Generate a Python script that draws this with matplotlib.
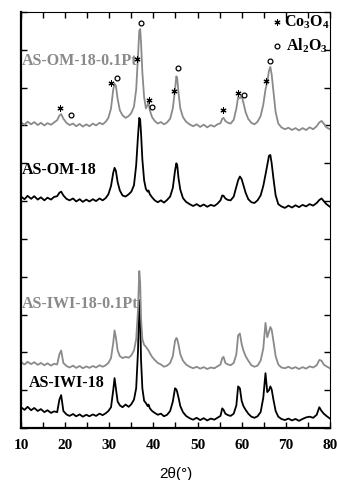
import matplotlib
matplotlib.use("Agg")
import matplotlib.pyplot as plt
from matplotlib.ticker import MultipleLocator, NullFormatter

plt.rcParams['mathtext.fontset'] = 'custom'
plt.rcParams['mathtext.rm'] = 'Liberation Serif:bold'
plt.rcParams['mathtext.bf'] = 'Liberation Serif:bold'

# 2theta grid shared by the four patterns (degrees)
two_theta = [10.0, 10.8, 11.5, 12.3, 13.0, 13.8, 14.5, 15.3, 16.0, 16.8,
             17.5, 18.2, 18.7, 19.1, 19.6, 20.3, 21.0, 21.8, 22.5, 23.3,
             24.0, 24.8, 25.5, 26.3, 27.0, 27.8, 28.5, 29.2, 29.8, 30.4,
             30.9, 31.2, 31.5, 31.9, 32.4, 33.0, 33.7, 34.4, 35.0, 35.6,
             36.1, 36.5, 36.8, 37.0, 37.2, 37.5, 37.9, 38.3, 38.7, 38.9,
             39.2, 39.7, 40.3, 41.0, 41.7, 42.4, 43.1, 43.8, 44.4, 44.9,
             45.2, 45.4, 45.7, 46.1, 46.7, 47.4, 48.2, 49.0, 49.8, 50.6,
             51.4, 52.2, 53.0, 53.8, 54.5, 55.2, 55.6, 55.9, 56.3, 56.9,
             57.5, 58.2, 58.8, 59.2, 59.6, 60.0, 60.4, 60.9, 61.5, 62.2,
             62.9, 63.6, 64.3, 64.9, 65.4, 65.8, 66.2, 66.5, 66.8, 67.2,
             67.7, 68.3, 69.0, 69.8, 70.6, 71.4, 72.2, 73.0, 73.8, 74.6,
             75.4, 76.2, 77.0, 77.6, 78.1, 78.6, 79.2, 80.0]

# intensities (offset, arbitrary units)
om_pt = [8.08, 8.02, 8.10, 8.03, 8.09, 8.01, 8.07, 8.00, 8.06, 8.02,
         8.08, 8.14, 8.26, 8.30, 8.18, 8.07, 8.01, 8.05, 7.98, 8.04,
         7.97, 8.03, 7.98, 8.05, 8.00, 8.07, 8.03, 8.10, 8.20, 8.45,
         8.95, 9.10, 9.05, 8.70, 8.40, 8.27, 8.20, 8.25, 8.33, 8.50,
         8.95, 9.80, 10.50, 10.55, 10.20, 9.40, 8.75, 8.45, 8.55, 8.62,
         8.40, 8.22, 8.12, 8.05, 8.09, 8.03, 8.08, 8.18, 8.45, 8.95,
         9.30, 9.25, 8.85, 8.45, 8.22, 8.10, 8.03, 7.98, 8.03, 7.96,
         8.02, 7.95, 8.01, 7.97, 8.03, 8.06, 8.18, 8.20, 8.12, 8.07,
         8.05, 8.15, 8.45, 8.75, 8.72, 8.78, 8.60, 8.35, 8.17, 8.07,
         8.03, 8.10, 8.25, 8.55, 8.95, 9.15, 9.45, 9.55, 9.35, 8.90,
         8.35, 8.05, 7.95, 7.90, 7.94, 7.88, 7.93, 7.87, 7.93, 7.88,
         7.95, 7.90, 7.98, 8.08, 8.12, 8.05, 7.95, 7.90]

om = [6.12, 6.05, 6.14, 6.06, 6.13, 6.04, 6.10, 6.02, 6.09, 6.04,
      6.11, 6.13, 6.22, 6.25, 6.15, 6.06, 6.02, 6.07, 5.99, 6.05,
      5.98, 6.04, 5.99, 6.05, 6.00, 6.07, 6.02, 6.08, 6.18, 6.40,
      6.75, 6.88, 6.80, 6.50, 6.28, 6.15, 6.12, 6.18, 6.25, 6.42,
      6.95, 7.70, 8.20, 8.15, 7.80, 7.10, 6.55, 6.32, 6.25, 6.28,
      6.18, 6.10, 6.02, 5.97, 6.02, 5.96, 6.03, 6.12, 6.35, 6.80,
      7.00, 6.95, 6.60, 6.30, 6.08, 5.98, 5.92, 5.87, 5.92, 5.86,
      5.91, 5.85, 5.90, 5.87, 5.93, 6.02, 6.15, 6.14, 6.07, 6.03,
      6.02, 6.12, 6.38, 6.55, 6.65, 6.58, 6.42, 6.22, 6.05, 5.97,
      5.95, 6.02, 6.15, 6.40, 6.70, 6.95, 7.20, 7.22, 7.00, 6.60,
      6.15, 5.92, 5.86, 5.82, 5.88, 5.83, 5.89, 5.84, 5.90, 5.86,
      5.92, 5.88, 5.95, 6.03, 6.07, 6.00, 5.92, 5.85]

iwi_pt = [1.74, 1.68, 1.75, 1.69, 1.74, 1.67, 1.72, 1.66, 1.71, 1.65,
          1.70, 1.68, 1.95, 2.05, 1.72, 1.64, 1.60, 1.65, 1.59, 1.64,
          1.58, 1.63, 1.59, 1.64, 1.60, 1.66, 1.62, 1.66, 1.72, 1.85,
          2.25, 2.58, 2.40, 2.05, 1.90, 1.85, 1.88, 1.86, 1.92, 2.05,
          2.35, 3.10, 4.15, 3.85, 2.90, 2.35, 2.20, 2.15, 2.08, 2.05,
          1.98, 1.88, 1.80, 1.72, 1.68, 1.62, 1.65, 1.72, 1.90, 2.30,
          2.38, 2.35, 2.20, 1.95, 1.78, 1.68, 1.62, 1.58, 1.62, 1.57,
          1.61, 1.56, 1.60, 1.58, 1.63, 1.68, 1.85, 1.88, 1.72, 1.68,
          1.66, 1.72, 1.95, 2.45, 2.50, 2.22, 2.05, 1.90, 1.78, 1.66,
          1.62, 1.65, 1.78, 2.10, 2.78, 2.40, 2.55, 2.67, 2.60, 2.30,
          1.90, 1.68, 1.60, 1.58, 1.62, 1.57, 1.61, 1.56, 1.61, 1.57,
          1.63, 1.60, 1.66, 1.80, 1.78, 1.68, 1.63, 1.58]

iwi = [0.55, 0.48, 0.56, 0.47, 0.53, 0.45, 0.50, 0.42, 0.47, 0.40,
       0.44, 0.42, 0.75, 0.87, 0.45, 0.36, 0.32, 0.37, 0.31, 0.36,
       0.30, 0.35, 0.31, 0.36, 0.32, 0.38, 0.34, 0.39, 0.45, 0.55,
       1.00, 1.32, 1.05, 0.70, 0.60, 0.55, 0.62, 0.56, 0.63, 0.75,
       1.05, 2.00, 3.38, 3.00, 1.80, 1.05, 0.72, 0.66, 0.58, 0.62,
       0.52, 0.45, 0.40, 0.35, 0.38, 0.31, 0.35, 0.45, 0.70, 1.05,
       1.02, 0.95, 0.80, 0.58, 0.42, 0.32, 0.26, 0.22, 0.27, 0.21,
       0.26, 0.20, 0.25, 0.22, 0.27, 0.32, 0.52, 0.48, 0.38, 0.34,
       0.32, 0.38, 0.60, 1.10, 1.05, 0.72, 0.58, 0.48, 0.38, 0.30,
       0.27, 0.31, 0.42, 0.80, 1.45, 0.95, 1.00, 1.10, 1.02, 0.75,
       0.45, 0.30, 0.24, 0.21, 0.25, 0.20, 0.24, 0.19, 0.24, 0.28,
       0.30, 0.27, 0.35, 0.55, 0.45, 0.38, 0.32, 0.25]

# phase marks on the AS-OM-18-0.1Pt pattern
co_x = [18.8, 30.4, 36.3, 39.0, 44.7, 55.8, 59.2, 65.5]
co_y = [8.47, 9.13, 9.76, 8.68, 8.92, 8.41, 8.86, 9.18]
al_x = [21.4, 31.8, 37.2, 39.7, 45.6, 60.5, 66.4]
al_y = [8.28, 9.26, 10.71, 8.49, 9.52, 8.81, 9.71]

labels = ["AS-OM-18-0.1Pt", "AS-OM-18", "AS-IWI-18-0.1Pt", "AS-IWI-18"]
gray = '#8a8a8a'

fig = plt.figure(figsize=(3.37, 4.8), dpi=100)
ax = fig.add_axes([0.0623, 0.1083, 0.9167, 0.8667])

ax.plot(two_theta, iwi, color='black', lw=1.3)
ax.plot(two_theta, iwi_pt, color=gray, lw=1.3)
ax.plot(two_theta, om, color='black', lw=1.3)
ax.plot(two_theta, om_pt, color=gray, lw=1.3)

ax.scatter(co_x, co_y, marker=(6, 2, 0), s=14, c='black', linewidths=0.8, zorder=5)
ax.scatter(al_x, al_y, marker='o', s=12, facecolors='white', edgecolors='black',
           linewidths=0.9, zorder=5)

tfont = dict(family='Liberation Serif', weight='bold', fontsize=11.5)
ax.text(10.2, 9.71, labels[0], color=gray, va='center', **tfont)
ax.text(10.2, 6.83, labels[1], color='black', va='center', **tfont)
ax.text(10.2, 3.28, labels[2], color=gray, va='center', **tfont)
ax.text(11.8, 1.19, labels[3], color='black', va='center', **tfont)

# legend
ax.scatter([67.9], [10.74], marker=(6, 2, 0), s=14, c='black', linewidths=0.8)
ax.text(69.6, 10.74, r'Co$_\mathbf{3}$O$_\mathbf{4}$', va='center', **tfont)
ax.scatter([68.0], [10.1], marker='o', s=12, facecolors='white',
           edgecolors='black', linewidths=0.9)
ax.text(70.0, 10.1, r'Al$_\mathbf{2}$O$_\mathbf{3}$', va='center', **tfont)

ax.set_xlim(10, 80)
ax.set_ylim(0, 11)
ax.xaxis.set_major_locator(MultipleLocator(10))
ax.xaxis.set_minor_locator(MultipleLocator(5))
ax.yaxis.set_major_locator(MultipleLocator(1))
ax.yaxis.set_major_formatter(NullFormatter())
ax.tick_params(which='both', direction='in', top=True, right=True, length=4.5, width=1)
ax.tick_params(axis='x', pad=8)
for lab in ax.get_xticklabels():
    lab.set_fontfamily('Liberation Serif')
    lab.set_fontweight('bold')
    lab.set_fontsize(11)

ax.spines['left'].set_linewidth(1.6)
ax.spines['bottom'].set_linewidth(1.6)
ax.spines['top'].set_linewidth(0.8)
ax.spines['right'].set_linewidth(0.8)

ax.set_xlabel('2θ(°)', family='Liberation Sans', fontsize=11, labelpad=11)

fig.savefig('out.png', dpi=100)
